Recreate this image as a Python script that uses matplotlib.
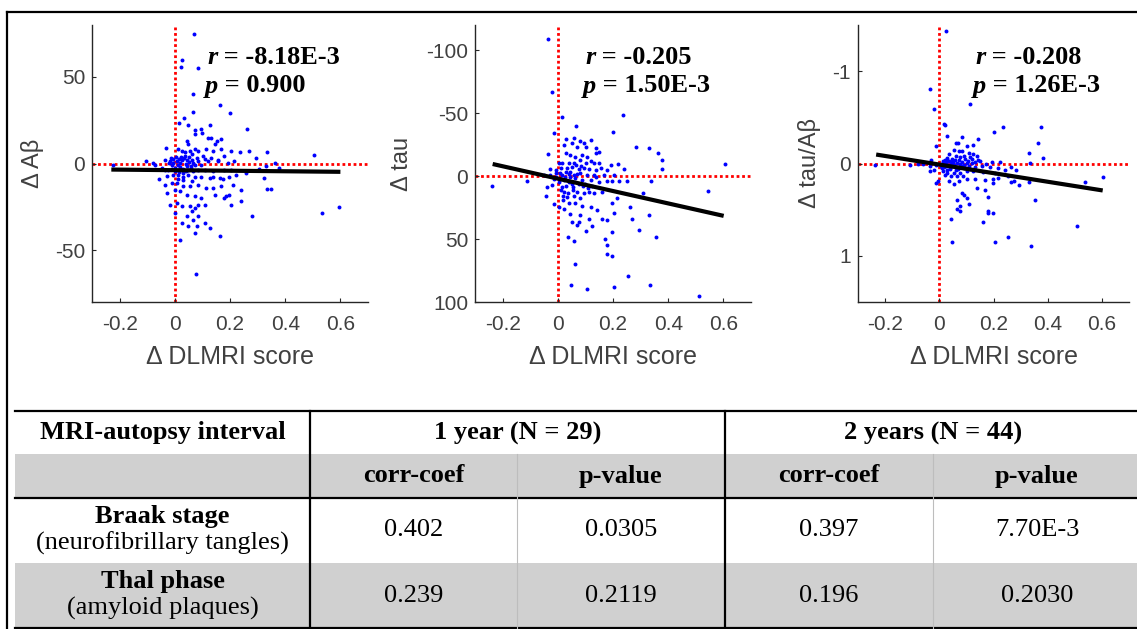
import numpy as np
import matplotlib
matplotlib.use("Agg")
import matplotlib.pyplot as plt
from matplotlib.lines import Line2D
from matplotlib.patches import Rectangle
from matplotlib.text import Annotation

# ---------------- data ----------------
# panel 1: delta DLMRI score vs delta Abeta
ab_pts = [
    (0.069, 75), (0.025, 60), (0.021, 56), (0.085, 55), (0.067, 40), (0.164, 34), (0.067, 30),
    (0.199, 29), (0.035, 26), (0.015, 23.6), (0.049, 22), (0.126, 22), (0.073, 19.3), (0.096, 20),
    (0.073, 16.8), (0.1, 17.4), (0.261, 19.7), (0.132, 14.9), (0.12, 14.9), (0.154, 12.9),
    (0.168, 13.9), (0.043, 12.9), (0.049, 11), (0.144, 11), (-0.031, 9.1),
    (0.013, 8.1), (0.025, 7.1), (0.037, 6.8), (0.055, 7.1), (0.073, 8.1), (0.085, 7.1), (0.114, 8.1),
    (0.138, 7.1), (0.168, 8.1), (0.204, 7.5), (0.237, 6.6), (0.269, 7.1), (0.335, 6.8),
    (0.037, 4.2), (0.061, 5.2), (0.079, 3.3), (0.102, 4.2), (0.132, 3.3), (0.156, 2.3), (0.18, 4.2),
    (0.293, 3.3), (-0.035, 1.9), (-0.017, 1.4), (-0.005, 0.4), (0.007, 1.4), (0.025, 1.9),
    (0.043, 1.9), (0.061, 2.3), (0.085, 1.4), (0.12, 1.4), (0.156, 1.4), (0.192, 0.4), (0.215, 1.4),
    (0.364, 0.4), (0.376, -2.5), (-0.046, -2.5), (-0.035, -3.5), (-0.023, -3.5), (-0.011, -3.1),
    (0.001, -2.5), (0.013, -3.9), (0.031, -3.1), (0.049, -3.5), (0.067, -4.4), (0.085, -3.5),
    (0.108, -3.9), (0.138, -4.4), (0.18, -3.5), (0.204, -3.5), (0.257, -5.4), (0.305, -3.1),
    (0.329, -1.5), (-0.058, -8.9), (-0.029, -7.3), (-0.005, -6.4), (0.013, -6.9), (0.031, -7.7),
    (0.049, -6.9), (0.073, -7.7), (0.096, -7.7), (0.126, -8.3), (0.138, -7.7), (0.162, -8.3),
    (0.174, -8.9), (0.198, -7.7), (0.221, -6.4), (0.323, -8.3), (-0.035, -12.2), (-0.011, -11.2),
    (0.007, -11.2), (0.031, -13.1), (0.055, -13.1), (0.085, -12.2), (0.114, -14.1), (0.138, -14.1),
    (0.168, -13.1), (0.21, -12.2), (0.239, -15.1), (0.335, -14.5), (0.349, -14.5), (-0.029, -17),
    (0.001, -15.1), (0.019, -16), (0.043, -18), (0.073, -18.9), (0.096, -19.9), (0.144, -18),
    (0.186, -18.9), (0.198, -18), (0.18, -19.9), (0.239, -21.8), (-0.017, -23.7), (0.007, -22.8),
    (0.025, -24.7), (0.055, -24.7), (0.085, -23.7), (0.108, -23.7), (0.073, -25.7), (0.204, -23.7),
    (0.001, -28.6), (0.061, -27.6), (0.043, -30.5), (0.085, -30.5), (0.067, -32.4), (0.108, -34.4),
    (0.281, -30.1), (0.025, -34.4), (0.049, -36.3), (0.079, -36.3), (0.073, -40.2), (0.126, -37.3),
    (0.165, -41.7), (0.504, 4.8), (0.535, -28.6), (0.596, -25), (0.019, -44), (0.075, -64),
    (-0.225, -1), (-0.106, 1.7), (-0.08, 0.5), (-0.07, -1), (0.01, -1), (0.02, 0.5), (0.04, -0.5),
    (0.05, 0.8), (0.06, -1.5), (0.015, -5), (0.03, -5.5), (0.045, -1.5),
    (-0.015, 3.0), (-0.005, 2.5), (0.005, 3.5), (0.015, 2.8), (0.022, 4.0), (0.033, 3.0),
    (0.052, 3.8), (0.066, 0.5), (0.072, -1.0), (0.058, -2.8), (0.04, -4.6), (0.02, -2.0),
    (-0.01, -0.8), (-0.02, 0.2), (0.002, -4.5), (0.028, -9.5), (0.011, -9.0), (0.062, -10.0),
    (0.095, -1.0), (0.11, 2.5),
]
# panel 2: delta DLMRI score vs delta tau
tau_pts = [
    (0.067, -40), (-0.015, -34.6), (0.03, -29.8), (0.058, -30.4), (0.08, -28.2), (0.121, -28.7),
    (0.022, -24.7), (0.052, -26.1), (0.095, -26.1), (0.101, -22.9), (0.137, -22.1), (0.07, -23.4),
    (-0.035, -17.3), (0.028, -18.6), (0.046, -16.8), (0.064, -15.4), (0.088, -16.8), (0.107, -14.9),
    (0.137, -18.6), (0.149, -19.4), (0.004, -10.1), (0.016, -10.1), (0.04, -10.1), (0.058, -10.6),
    (0.082, -12.8), (0.101, -10.1), (0.131, -10.6), (0.149, -10.1), (0.192, -8.8), (0.218, -9.6),
    (-0.027, -5.3), (-0.008, -4.8), (0.01, -6.1), (0.034, -6.1), (0.052, -6.9), (0.076, -5.3),
    (0.095, -6.1), (0.113, -5.3), (0.137, -4.8), (0.155, -6.1), (0.177, -4.8), (0.24, -5.3),
    (-0.051, -0.8), (-0.027, -0.8), (-0.008, -2.1), (0.016, -0.8), (0.04, -1.6), (0.058, -0.8),
    (0.082, -2.1), (0.107, -0.8), (0.131, -0.8), (0.167, -0.8), (0.204, -0.8), (0.249, 3.7),
    (-0.039, 9.0), (-0.02, 7.2), (0.004, 4.5), (0.022, 3.2), (0.04, 4.5), (0.064, 1.9), (0.088, 3.2),
    (0.119, 3.2), (0.149, 4.5), (0.179, 3.9), (0.198, 3.9), (0.222, 3.9), (0.337, 3.9),
    (-0.041, 15.9), (0.012, 11.2), (0.022, 12.5), (0.036, 13.8), (0.056, 11.2), (0.07, 12.5),
    (0.095, 13.3), (0.113, 12.5), (0.131, 13.3), (0.161, 12.5), (0.307, 13.8), (0.216, 17.1),
    (0.198, 21.3), (-0.012, 22.3), (0.004, 24.5), (0.022, 25.8), (0.04, 21.3), (0.064, 21.3),
    (0.088, 24), (0.119, 24.5), (0.143, 26.6), (0.262, 24.5), (0.204, 29.3), (0.046, 30.3),
    (0.082, 31.1), (0.052, 36.4), (0.076, 36.4), (0.113, 33.8), (0.161, 33.8), (0.179, 35.1),
    (0.27, 33.8), (0.331, 30.6), (0.07, 39.1), (0.101, 43.6), (0.125, 39.9), (0.198, 44.4),
    (0.295, 43.1), (0.355, 48.4), (0.038, 48.4), (0.058, 51.6), (0.17, 49.7), (0.177, 55.1),
    (0.179, 61.7), (0.198, 63.6), (0.064, 69.7), (0.254, 79), (0.048, 86.2), (0.107, 89.6),
    (0.204, 88.3), (0.335, 86.2), (0.51, 95), (-0.035, -108.5), (-0.021, -66.5), (0.017, -46.8),
    (0.236, -48.7), (0.2, -35.4), (0.285, -23.4), (0.331, -22), (0.364, -18), (0.379, -12.8),
    (0.379, -6), (0.604, -9.6), (-0.239, 7.7), (-0.112, 4), (0.543, 11.7), (0.01, 2), (0.03, -3),
    (0.05, 6), (0.07, -2), (0.09, 8), (0.02, 16), (0.06, 16), (0.1, 6), (0.12, -12),
    (-0.005, 0.5), (0.008, -2.5), (0.025, 0.8), (0.045, 1.0), (0.03, 7.5), (0.015, 9.0),
    (0.055, 8.5), (0.075, 6.5), (0.085, -8.0), (0.065, -9.0), (0.045, -3.5), (0.11, 9.5),
    (0.125, 7.5), (0.14, 1.0), (0.02, 19.0), (0.08, 17.5), (-0.015, 2.5), (0.035, 17.0),
]
# panel 3: delta DLMRI score vs delta tau/Abeta
ratio_pts = [
    (0.022, -0.42), (0.03, -0.3), (0.084, -0.29), (0.144, -0.26), (0.06, -0.22), (0.07, -0.22),
    (0.126, -0.205), (0.102, -0.19), (0.054, -0.15), (0.072, -0.13), (0.084, -0.13), (0.108, -0.115),
    (0.126, -0.108), (0.036, -0.1), (0.06, -0.08), (0.09, -0.08), (0.114, -0.072), (0.138, -0.08),
    (0.03, -0.06), (0.048, -0.05), (0.072, -0.043), (0.096, -0.05), (0.12, -0.05), (0.144, -0.036),
    (-0.03, -0.043), (0.012, -0.025), (0.024, -0.007), (0.036, -0.025), (0.048, -0.014),
    (0.066, -0.007), (0.084, -0.014), (0.102, -0.007), (0.12, -0.007), (0.132, -0.014),
    (0.15, -0.025), (0.174, 0.0), (0.193, -0.014), (0.223, -0.014), (0.265, 0.036),
    (-0.036, 0.022), (-0.012, 0.011), (0.006, 0.029), (0.024, 0.022), (0.042, 0.029), (0.06, 0.036),
    (0.084, 0.029), (0.108, 0.029), (0.132, 0.036), (0.156, 0.022), (0.187, 0.036), (0.217, 0.047),
    (0.241, 0.072), (0.283, 0.065), (-0.018, 0.065), (0.012, 0.083), (0.03, 0.1), (0.054, 0.1),
    (0.078, 0.1), (0.102, 0.083), (0.126, 0.083), (0.162, 0.094), (0.205, 0.1), (0.217, 0.155),
    (0.253, 0.137), (0.277, 0.19), (0.295, 0.238), (-0.006, 0.19), (0.036, 0.19), (0.072, 0.19),
    (0.102, 0.173), (0.132, 0.173), (0.168, 0.18), (0.199, 0.21), (0.265, 0.2), (0.331, 0.2),
    (0.054, 0.227), (0.138, 0.263), (0.168, 0.288), (0.199, 0.166), (0.084, 0.317), (0.09, 0.346),
    (0.102, 0.37), (0.066, 0.396), (0.078, 0.455), (0.108, 0.443), (0.181, 0.36), (0.042, 0.605),
    (0.162, 0.634), (0.181, 0.515), (0.181, 0.54), (0.199, 0.533), (0.066, 0.49), (0.078, 0.515),
    (0.048, 0.847), (0.205, 0.847), (0.253, 0.797), (0.337, 0.894), (0.025, -1.43), (-0.034, -0.81),
    (-0.019, -0.59), (0.112, -0.645), (0.019, -0.43), (0.2, -0.34), (0.236, -0.39), (0.377, -0.39),
    (0.365, -0.22), (0.33, -0.115), (0.382, -0.06), (0.336, -0.01), (-0.236, 0.02), (0.603, 0.144),
    (0.539, 0.2), (0.354, 0.4), (0.508, 0.68), (-0.011, -0.19), (-0.011, 0.21), (-0.107, 0.02),
    (-0.035, 0.08), (-0.08, 0.0), (-0.06, 0.01), (0.01, 0.05), (0.02, -0.04), (0.04, 0.06),
    (0.05, -0.02), (0.07, 0.06), (0.09, 0.05), (0.015, 0.0), (0.045, 0.0),
    (0.005, 0.01), (0.018, 0.04), (0.028, 0.07), (0.038, 0.045), (0.055, 0.015), (0.062, 0.065),
    (0.078, 0.005), (0.092, 0.015), (0.1, 0.05), (0.112, 0.06), (0.028, -0.035), (0.058, -0.04),
    (0.078, -0.065), (0.105, -0.03), (0.02, 0.12), (0.045, 0.135), (0.066, 0.13), (0.088, 0.14),
]

fit_x = [[-0.23, 0.60], [-0.236, 0.601], [-0.233, 0.603]]
fit_y = [[-3.5, -4.8], [-9.6, 31.6], [-0.097, 0.292]]

y_labels = ["\u0394 A\u03b2", "\u0394 tau", "\u0394 tau/A\u03b2"]
x_label = "\u0394 DLMRI score"
r_values = ["-8.18E-3", "-0.205", "-0.208"]
p_values = ["0.900", "1.50E-3", "1.26E-3"]
x_ticks = [-0.2, 0, 0.2, 0.4, 0.6]
x_ticklabels = ["-0.2", "0", "0.2", "0.4", "0.6"]
y_ticks = [[-50, 0, 50], [-100, -50, 0, 50, 100], [-1, 0, 1]]
y_ticklabels = [["-50", "0", "50"], ["-100", "-50", "0", "50", "100"], ["-1", "0", "1"]]
y_limits = [(-80, 80), (100, -120), (1.5, -1.5)]

table_corner = "MRI-autopsy interval"
intervals = ["1 year (N = 29)", "2 years (N = 44)"]
sub_cols = ["corr-coef", "p-value", "corr-coef", "p-value"]
row_titles = ["Braak stage", "Thal phase"]
row_notes = ["(neurofibrillary tangles)", "(amyloid plaques)"]
cell_values = [["0.402", "0.0305", "0.397", "7.70E-3"],
               ["0.239", "0.2119", "0.196", "0.2030"]]

# ---------------- figure ----------------
W, H = 1137, 629
fig = plt.figure(figsize=(W / 100, H / 100), dpi=100)
fig.patch.set_facecolor("white")


def fx(px):
    return px / W


def fy(py):
    return 1 - py / H


SANS = "Liberation Sans"
SERIF = "Liberation Serif"
GRAY = "#404040"
AFS = 19

panels = [ab_pts, tau_pts, ratio_pts]
ax_left = [92, 475, 858]
ax_width = [276, 276, 271]
ylab_x = [-0.215, -0.265, -0.18]
text_left = [207, 585, 975]

for i in range(3):
    ax = fig.add_axes([fx(ax_left[i]), fy(302), ax_width[i] / W, 277 / H])
    pts = np.array(panels[i])
    ax.axhline(0, color="red", ls=(0, (1, 1)), lw=2, zorder=1)
    ax.axvline(0, color="red", ls=(0, (1, 1)), lw=2, zorder=1)
    ax.scatter(pts[:, 0], pts[:, 1], s=8, color="#0000ff", linewidths=0, zorder=2)
    ax.plot(fit_x[i], fit_y[i], color="black", lw=3, zorder=3, solid_capstyle="butt")
    ax.set_xlim(-0.3, 0.7)
    ax.set_ylim(*y_limits[i])
    ax.set_xticks(x_ticks)
    ax.set_xticklabels(x_ticklabels)
    ax.set_yticks(y_ticks[i])
    ax.set_yticklabels(y_ticklabels[i])
    for s in ["top", "right"]:
        ax.spines[s].set_visible(False)
    for s in ["left", "bottom"]:
        ax.spines[s].set_color("#262626")
        ax.spines[s].set_linewidth(1.0)
    ax.tick_params(direction="in", length=3, width=0.8, colors="#262626",
                   labelcolor=GRAY, labelsize=15)
    ax.tick_params(axis="x", pad=9)
    ax.tick_params(axis="y", pad=5)
    for lab in ax.get_xticklabels() + ax.get_yticklabels():
        lab.set_fontfamily(SANS)
    ax.set_xlabel(x_label, fontsize=18, color=GRAY, family=SANS)
    ax.xaxis.set_label_coords(0.5, -0.2)
    ax.xaxis.label.set_va("center")
    ax.set_ylabel(y_labels[i], fontsize=17, color=GRAY, family=SANS)
    ax.yaxis.set_label_coords(ylab_x[i], 0.5)
    ax.yaxis.label.set_va("center")

    # r / p annotations
    t1 = fig.text(fx(text_left[i]), fy(57), "r", fontsize=AFS, family=SERIF,
                  weight="bold", style="italic", va="center", ha="left")
    fig.add_artist(Annotation(
        " = " + r_values[i], xy=(1, 0), xycoords=t1, xytext=(0, 0),
        textcoords="offset points", fontsize=AFS, family=SERIF, weight="bold",
        va="bottom", ha="left"))
    t2 = fig.text(fx(text_left[i] - 2), fy(86), "p", fontsize=AFS, family=SERIF,
                  weight="bold", style="italic", va="center", ha="left")
    fig.add_artist(Annotation(
        " = " + p_values[i], xy=(1, 0), xycoords=t2, xytext=(0, 0),
        textcoords="offset points", fontsize=AFS, family=SERIF, weight="bold",
        va="bottom", ha="left"))

# outer frame
fig.add_artist(Line2D([fx(7), fx(W)], [fy(12), fy(12)], color="black", lw=1.6))
fig.add_artist(Line2D([fx(7), fx(7)], [fy(12), fy(H)], color="black", lw=1.6))

# ---------------- table ----------------
T_L, T_R = 15, W
col_x = [15, 310, 517, 725, 933, 1141]
row_y = [411, 454, 498, 563, 628]
LIGHT = "#d0d0d0"

for (y0, y1) in [(row_y[1], row_y[2]), (row_y[3], row_y[4])]:
    fig.add_artist(Rectangle((fx(T_L), fy(y1)), (T_R - T_L) / W, (y1 - y0) / H,
                             facecolor=LIGHT, edgecolor="none", zorder=0))

for yy in [row_y[0], row_y[2], row_y[4]]:
    fig.add_artist(Line2D([fx(T_L), fx(T_R)], [fy(yy), fy(yy)], color="black", lw=1.6))
for xx in [col_x[1], col_x[3]]:
    fig.add_artist(Line2D([fx(xx), fx(xx)], [fy(row_y[0]), fy(row_y[4])], color="black", lw=1.6))
for xx in [col_x[2], col_x[4]]:
    fig.add_artist(Line2D([fx(xx), fx(xx)], [fy(row_y[1]), fy(row_y[4])], color="#bdbdbd", lw=0.8))

TFS = 19
fig.text(fx((col_x[0] + col_x[1]) / 2), fy(433), table_corner, fontsize=TFS, family=SERIF,
         weight="bold", ha="center", va="center")
for k in range(2):
    cx = (col_x[1 + 2 * k] + col_x[3 + 2 * k]) / 2
    fig.text(fx(cx), fy(433), intervals[k], fontsize=TFS, family=SERIF, weight="bold",
             ha="center", va="center")
for k in range(4):
    cx = (col_x[1 + k] + col_x[2 + k]) / 2
    fig.text(fx(cx), fy(476), sub_cols[k], fontsize=TFS, family=SERIF, weight="bold",
             ha="center", va="center")
row_centers = [(row_y[2] + row_y[3]) / 2, (row_y[3] + row_y[4]) / 2]
for r in range(2):
    cy = row_centers[r]
    fig.text(fx((col_x[0] + col_x[1]) / 2), fy(cy - 14), row_titles[r], fontsize=TFS,
             family=SERIF, weight="bold", ha="center", va="center")
    fig.text(fx((col_x[0] + col_x[1]) / 2), fy(cy + 13), row_notes[r], fontsize=TFS,
             family=SERIF, ha="center", va="center")
    for k in range(4):
        cx = (col_x[1 + k] + col_x[2 + k]) / 2
        fig.text(fx(cx), fy(cy), cell_values[r][k], fontsize=TFS, family=SERIF,
                 ha="center", va="center")

fig.savefig("out.png", dpi=100)
